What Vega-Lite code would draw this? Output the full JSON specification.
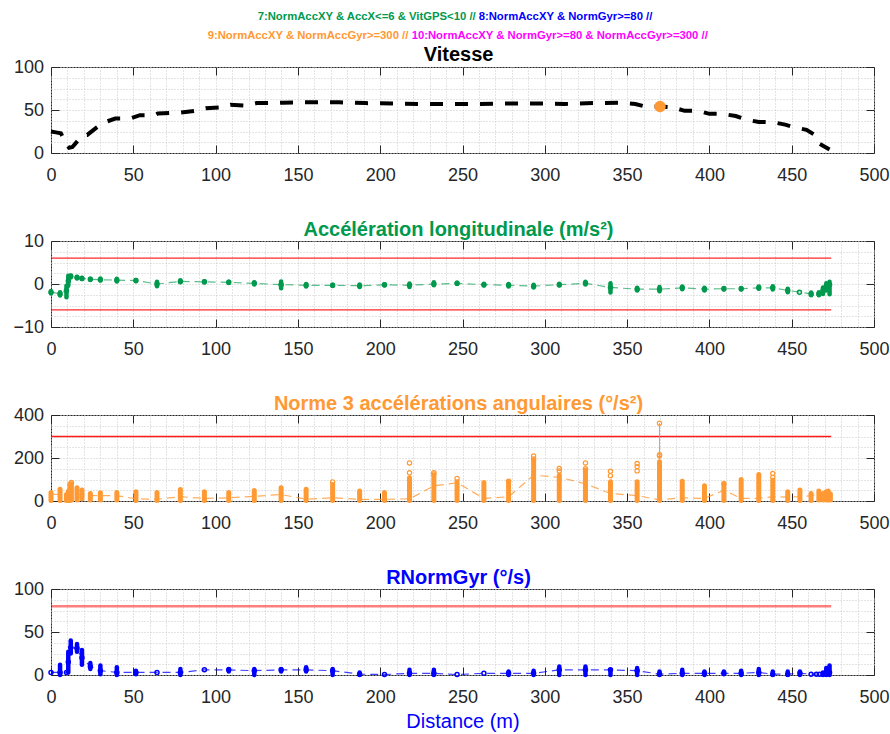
{
 "$schema": "https://vega.github.io/schema/vega-lite/v6.json",
 "background": "white",
 "padding": {"left": 12, "top": 10, "right": 5, "bottom": 5},
 "autosize": {"type": "pad"},
 "bounds": "flush",
 "spacing": 88,
 "config": {
  "font": "Liberation Sans",
  "view": {"stroke": "#262626", "strokeWidth": 1},
  "axis": {"domain": false, "labelFont": "Liberation Sans", "labelFontSize": 18, "labelColor": "#262626", "tickColor": "#262626", "tickWidth": 1, "gridColor": "#c8c8c8", "gridDash": [1, 2], "gridWidth": 1, "labelFlush": false, "labelOverlap": false, "labelBound": false},
  "title": {"font": "Liberation Sans", "fontSize": 20, "fontWeight": "bold", "anchor": "middle", "offset": -7.5, "dx": -4}
 },
 "datasets": {
  "vit": [
   {"d":0,"v":25},{"d":3,"v":24},{"d":6,"v":23},{"d":8,"v":15},{"d":10,"v":8},{"d":11,"v":6},{"d":13,"v":7},{"d":18,"v":18},{"d":20,"v":21},{"d":22,"v":21},{"d":28,"v":30},{"d":31,"v":34},{"d":33,"v":36},{"d":39,"v":40},{"d":48,"v":40},{"d":54,"v":44},{"d":63,"v":44},{"d":65,"v":46},{"d":79,"v":47},{"d":88,"v":49},{"d":94,"v":52},{"d":103,"v":53},{"d":109,"v":56},{"d":118,"v":55},{"d":125,"v":58},{"d":134,"v":58},{"d":141,"v":58.5},{"d":151,"v":59},{"d":175,"v":59},{"d":191,"v":58},{"d":209,"v":57.5},{"d":226,"v":57},{"d":260,"v":57},{"d":278,"v":57.6},{"d":295,"v":57.6},{"d":312,"v":57},{"d":329,"v":58},{"d":346,"v":58.4},{"d":355,"v":57},{"d":361,"v":54},{"d":370,"v":54},{"d":378,"v":53},{"d":385,"v":49},{"d":393,"v":49},{"d":400,"v":45.5},{"d":408,"v":45.5},{"d":416,"v":43},{"d":422,"v":39},{"d":430,"v":36},{"d":438,"v":36},{"d":446,"v":33},{"d":451,"v":30},{"d":459,"v":27},{"d":464,"v":21},{"d":467,"v":10.5},{"d":473,"v":4}
  ],
  "p370": [{"d": 370, "v": 54}],
  "acc": [
   {"d":0,"v":-1.9,"lo":-2.2,"hi":-1.6},{"d":5.5,"v":-2.3,"lo":-2.7,"hi":-1.9},{"d":9.4,"v":-1.5,"lo":-3.1,"hi":-0.4},{"d":10.5,"v":0.7,"lo":-0.4,"hi":1.9},{"d":12,"v":1.8,"lo":1.5,"hi":2.0},{"d":15.8,"v":1.5,"lo":1.3,"hi":1.7},{"d":18.8,"v":1.3,"lo":1.15,"hi":1.45},{"d":23.9,"v":1.1,"lo":0.95,"hi":1.25},{"d":30,"v":1.0,"lo":0.8,"hi":1.3},{"d":40,"v":0.9,"lo":0.6,"hi":1.2},{"d":51.6,"v":0.8,"lo":0.65,"hi":0.95},{"d":64.4,"v":0,"lo":-0.5,"hi":0.5},{"d":78.6,"v":0.6,"lo":0.4,"hi":0.9},{"d":93.2,"v":0.5,"lo":0.35,"hi":0.65},{"d":108,"v":0.4,"lo":0.25,"hi":0.55},{"d":123.5,"v":0.15,"lo":-0.1,"hi":0.4},{"d":139.8,"v":-0.15,"lo":-1.0,"hi":0.6},{"d":155,"v":-0.3,"lo":-0.6,"hi":0},{"d":171.1,"v":-0.3,"lo":-0.45,"hi":-0.15},{"d":187.5,"v":-0.4,"lo":-0.7,"hi":-0.1},{"d":202.6,"v":-0.2,"lo":-0.35,"hi":-0.05},{"d":217.8,"v":-0.3,"lo":-0.7,"hi":0.1},{"d":232.6,"v":0,"lo":-0.3,"hi":0.4},{"d":246.7,"v":0.15,"lo":0,"hi":0.3},{"d":263,"v":-0.15,"lo":-0.35,"hi":0.05},{"d":278,"v":-0.3,"lo":-0.6,"hi":0},{"d":293.2,"v":-0.5,"lo":-0.8,"hi":-0.2},{"d":308.8,"v":-0.15,"lo":-0.35,"hi":0.05},{"d":324.7,"v":0.15,"lo":-0.1,"hi":0.5},{"d":339.9,"v":-0.8,"lo":-2,"hi":0.2},{"d":356.1,"v":-1.2,"lo":-1.5,"hi":-0.9},{"d":369.7,"v":-1.2,"lo":-1.7,"hi":-0.7},{"d":383.5,"v":-0.9,"lo":-1.2,"hi":-0.6},{"d":397,"v":-1.2,"lo":-1.5,"hi":-0.9},{"d":408.8,"v":-1.1,"lo":-1.25,"hi":-0.95},{"d":419.3,"v":-1.1,"lo":-1.25,"hi":-0.95},{"d":430,"v":-0.9,"lo":-1.1,"hi":-0.6},{"d":438.5,"v":-0.9,"lo":-1.3,"hi":-0.5},{"d":447.6,"v":-1.5,"lo":-1.9,"hi":-1.1},{"d":454.7,"v":-1.9,"lo":-1.9,"hi":-1.9},{"d":461.8,"v":-2.3,"lo":-2.6,"hi":-2.0},{"d":466.5,"v":-2.3,"lo":-2.6,"hi":-1.9},{"d":469,"v":-1.5,"lo":-2.3,"hi":-0.8},{"d":471,"v":-0.6,"lo":-1.5,"hi":0.2},{"d":473,"v":-0.2,"lo":-2.4,"hi":0.5}
  ],
  "acg": [
   {"d":0,"v":32,"lo":2,"hi":40},{"d":5.5,"v":30,"lo":2,"hi":55},{"d":9.4,"v":25,"lo":2,"hi":30},{"d":10.5,"v":28,"lo":2,"hi":45},{"d":11.5,"v":30,"lo":2,"hi":70},{"d":12.4,"v":35,"lo":5,"hi":80},{"d":15.8,"v":30,"lo":5,"hi":62},{"d":18.8,"v":28,"lo":10,"hi":51},{"d":23.9,"v":26,"lo":5,"hi":35},{"d":30,"v":25,"lo":5,"hi":38},{"d":40,"v":25,"lo":5,"hi":40},{"d":51.6,"v":10,"lo":2,"hi":43},{"d":64.4,"v":8,"lo":2,"hi":40},{"d":78.6,"v":20,"lo":2,"hi":54},{"d":93.2,"v":12,"lo":2,"hi":43},{"d":108,"v":15,"lo":2,"hi":40},{"d":123.5,"v":22,"lo":2,"hi":49},{"d":139.8,"v":30,"lo":2,"hi":62},{"d":155,"v":8,"lo":2,"hi":55},{"d":171.1,"v":15,"lo":2,"hi":77},{"d":187.5,"v":8,"lo":2,"hi":46},{"d":202.6,"v":8,"lo":2,"hi":40},{"d":217.8,"v":10,"lo":2,"hi":108},{"d":232.6,"v":70,"lo":2,"hi":120},{"d":246.7,"v":85,"lo":2,"hi":89},{"d":263,"v":12,"lo":2,"hi":86},{"d":278,"v":20,"lo":2,"hi":88},{"d":293.2,"v":120,"lo":2,"hi":189},{"d":308.8,"v":110,"lo":2,"hi":120},{"d":324.7,"v":80,"lo":2,"hi":143},{"d":339.9,"v":35,"lo":2,"hi":89},{"d":356.1,"v":25,"lo":2,"hi":89},{"d":369.7,"v":5,"lo":2,"hi":182},{"d":383.5,"v":15,"lo":2,"hi":92},{"d":397,"v":12,"lo":2,"hi":71},{"d":408.8,"v":50,"lo":2,"hi":78},{"d":419.3,"v":12,"lo":2,"hi":100},{"d":430,"v":12,"lo":2,"hi":123},{"d":438.5,"v":20,"lo":2,"hi":97},{"d":447.6,"v":18,"lo":2,"hi":43},{"d":455,"v":20,"lo":2,"hi":51},{"d":461.8,"v":25,"lo":2,"hi":35},{"d":466.5,"v":30,"lo":5,"hi":46},{"d":469,"v":30,"lo":5,"hi":35},{"d":471,"v":30,"lo":5,"hi":43},{"d":472.2,"v":30,"lo":5,"hi":46},{"d":473.5,"v":28,"lo":5,"hi":32}
  ],
  "acgc": [
   {"d":11.5,"y":78},{"d":12.4,"y":86},{"d":171.1,"y":89},{"d":217.8,"y":177},{"d":217.8,"y":131},{"d":232.6,"y":132},{"d":232.6,"y":126},{"d":246.7,"y":105},{"d":278,"y":92},{"d":293.2,"y":209},{"d":293.2,"y":195},{"d":308.8,"y":151},{"d":308.8,"y":140},{"d":324.7,"y":177},{"d":324.7,"y":150},{"d":339.9,"y":138},{"d":339.9,"y":118},{"d":356.1,"y":174},{"d":356.1,"y":160},{"d":356.1,"y":140},{"d":369.7,"y":362},{"d":369.7,"y":215},{"d":369.7,"y":210},{"d":408.8,"y":82},{"d":438.5,"y":128},{"d":438.5,"y":110}
  ],
  "acgpk": [{"d": 369.7, "lo": 182, "hi": 362}],
  "gyr": [
   {"d":0,"v":3,"lo":3,"hi":3},{"d":5.5,"v":3,"lo":0,"hi":12},{"d":9.4,"v":3,"lo":3,"hi":3},{"d":10.5,"v":15,"lo":3,"hi":27},{"d":12,"v":32,"lo":25,"hi":40},{"d":15.8,"v":31,"lo":27,"hi":36},{"d":18.8,"v":20,"lo":12,"hi":29},{"d":23.9,"v":10,"lo":7,"hi":14},{"d":30,"v":5,"lo":1,"hi":11},{"d":40,"v":3,"lo":0,"hi":9},{"d":51.6,"v":3,"lo":1,"hi":5},{"d":64.4,"v":3,"lo":3,"hi":3},{"d":78.6,"v":3,"lo":0,"hi":7},{"d":93.2,"v":6,"lo":6,"hi":6},{"d":108,"v":6,"lo":4,"hi":7},{"d":123.5,"v":5,"lo":0,"hi":7},{"d":139.8,"v":6,"lo":4,"hi":7},{"d":155,"v":6,"lo":4,"hi":9},{"d":171.1,"v":5,"lo":0,"hi":7},{"d":187.5,"v":1,"lo":0,"hi":3},{"d":202.6,"v":0.5,"lo":0.5,"hi":0.5},{"d":217.8,"v":2,"lo":0,"hi":6},{"d":232.6,"v":2,"lo":0,"hi":6},{"d":246.7,"v":0.5,"lo":0.5,"hi":0.5},{"d":263,"v":2,"lo":2,"hi":2},{"d":278,"v":2,"lo":0,"hi":4},{"d":293.2,"v":2,"lo":0,"hi":5},{"d":308.8,"v":6,"lo":0,"hi":10},{"d":324.7,"v":6,"lo":0,"hi":10},{"d":339.9,"v":6,"lo":0,"hi":6},{"d":356.1,"v":5,"lo":0,"hi":8},{"d":369.7,"v":1,"lo":0,"hi":4},{"d":383.5,"v":2,"lo":0,"hi":6},{"d":397,"v":2,"lo":0,"hi":4},{"d":408.8,"v":2,"lo":1,"hi":4},{"d":419.3,"v":2,"lo":0,"hi":5},{"d":430,"v":3,"lo":0,"hi":7},{"d":438.5,"v":1,"lo":0,"hi":4},{"d":447.6,"v":1,"lo":0,"hi":4},{"d":455,"v":2,"lo":0,"hi":4},{"d":461.8,"v":1,"lo":1,"hi":1},{"d":465,"v":1,"lo":1,"hi":1},{"d":467,"v":1,"lo":1,"hi":1},{"d":469,"v":1,"lo":0,"hi":3},{"d":471,"v":3,"lo":0,"hi":8},{"d":473,"v":3,"lo":0,"hi":11}
  ],
  "lim2": [{"lim": 6, "x0": 0, "x1": 474}, {"lim": -6, "x0": 0, "x1": 474}],
  "lim3": [{"lim": 300, "x0": 0, "x1": 474}],
  "lim4": [{"lim": 80, "x0": 0, "x1": 474}]
 },
 "vconcat": [
  {
   "width": 823, "height": 86,
   "layer": [
    {"data": {"name": "vit"}, "mark": {"type": "line", "color": "#000000", "strokeWidth": 4, "strokeDash": [13, 12]},
     "encoding": {
      "x": {"field": "d", "type": "quantitative", "scale": {"domain": [0, 500], "nice": false, "zero": false},
            "axis": {"orient": "bottom", "values": [0,10,20,30,40,50,60,70,80,90,100,110,120,130,140,150,160,170,180,190,200,210,220,230,240,250,260,270,280,290,300,310,320,330,340,350,360,370,380,390,400,410,420,430,440,450,460,470,480,490,500], "labelExpr": "datum.value % 50 === 0 ? datum.label : ''", "tickOpacity": {"condition": {"test": "datum.value % 50 === 0", "value": 1}, "value": 0}, "tickSize": -8, "labelPadding": 21, "grid": true, "title": null}},
      "y": {"field": "v", "type": "quantitative", "scale": {"domain": [0, 100], "nice": false, "zero": false},
            "axis": {"orient": "left", "values": [0,12.5,25,37.5,50,62.5,75,87.5,100], "labelExpr": "datum.value % 50 === 0 ? datum.label : ''", "tickOpacity": {"condition": {"test": "datum.value % 50 === 0", "value": 1}, "value": 0}, "tickSize": -8, "labelPadding": 15.5, "grid": true, "title": null}}
     }},
    {"data": {"name": "p370"}, "mark": {"type": "point", "filled": true, "color": "#ff9933", "size": 130, "opacity": 1},
     "encoding": {
      "x": {"field": "d", "type": "quantitative", "axis": {"orient": "top", "values": [0,50,100,150,200,250,300,350,400,450,500], "labels": false, "grid": false, "tickSize": -8, "minExtent": 0, "maxExtent": 0, "title": null}},
      "y": {"field": "v", "type": "quantitative", "axis": {"orient": "right", "values": [0,50,100], "labels": false, "grid": false, "tickSize": -8, "minExtent": 0, "maxExtent": 0, "title": null}}
     }},
    {"data": {"values": [{"t": "Vitesse"}]}, "mark": {"type": "text", "align": "center", "baseline": "alphabetic", "fontWeight": "bold", "fontSize": 20, "color": "#000000"},
     "encoding": {"text": {"field": "t"}, "x": {"datum": 247.6, "axis": null}, "y": {"datum": 107, "axis": null}}},
    {"data": {"values": [{"t": "7:NormAccXY & AccX<=6 & VitGPS<10 //"}]}, "mark": {"type": "text", "align": "right", "baseline": "alphabetic", "fontWeight": "bold", "fontSize": 11.3, "color": "#00994d"},
     "encoding": {"text": {"field": "t"}, "x": {"datum": 258, "axis": null}, "y": {"datum": 154.3, "axis": null}}},
    {"data": {"values": [{"t": "8:NormAccXY & NormGyr>=80 //"}]}, "mark": {"type": "text", "align": "left", "baseline": "alphabetic", "fontWeight": "bold", "fontSize": 11.3, "color": "#0000ff"},
     "encoding": {"text": {"field": "t"}, "x": {"datum": 259.8, "axis": null}, "y": {"datum": 154.3, "axis": null}}},
    {"data": {"values": [{"t": "9:NormAccXY & NormAccGyr>=300 //"}]}, "mark": {"type": "text", "align": "right", "baseline": "alphabetic", "fontWeight": "bold", "fontSize": 11.3, "color": "#ff9933"},
     "encoding": {"text": {"field": "t"}, "x": {"datum": 217.1, "axis": null}, "y": {"datum": 132.9, "axis": null}}},
    {"data": {"values": [{"t": "10:NormAccXY & NormGyr>=80 & NormAccGyr>=300 //"}]}, "mark": {"type": "text", "align": "left", "baseline": "alphabetic", "fontWeight": "bold", "fontSize": 11.3, "color": "#ff00ff"},
     "encoding": {"text": {"field": "t"}, "x": {"datum": 219.1, "axis": null}, "y": {"datum": 132.9, "axis": null}}}
   ],
   "resolve": {"axis": {"x": "independent", "y": "independent"}}
  },
  {
   "width": 823, "height": 86,
   "title": {"text": "Accélération longitudinale (m/s²)", "color": "#00994d"},
   "layer": [
    {"data": {"name": "lim2"}, "mark": {"type": "rule", "color": "#ff0000", "strokeWidth": 1.3, "opacity": 0.85},
     "encoding": {
      "x": {"field": "x0", "type": "quantitative", "scale": {"domain": [0, 500], "nice": false, "zero": false},
            "axis": {"orient": "bottom", "values": [0,10,20,30,40,50,60,70,80,90,100,110,120,130,140,150,160,170,180,190,200,210,220,230,240,250,260,270,280,290,300,310,320,330,340,350,360,370,380,390,400,410,420,430,440,450,460,470,480,490,500], "labelExpr": "datum.value % 50 === 0 ? datum.label : ''", "tickOpacity": {"condition": {"test": "datum.value % 50 === 0", "value": 1}, "value": 0}, "tickSize": -8, "labelPadding": 21, "grid": true, "title": null}},
      "x2": {"field": "x1"},
      "y": {"field": "lim", "type": "quantitative", "scale": {"domain": [-10, 10], "nice": false, "zero": false},
            "axis": {"orient": "left", "values": [-10,-7.5,-5,-2.5,0,2.5,5,7.5,10], "labelExpr": "datum.value % 10 === 0 ? datum.label : ''", "tickOpacity": {"condition": {"test": "datum.value % 10 === 0", "value": 1}, "value": 0}, "tickSize": -8, "labelPadding": 15.5, "grid": true, "title": null}}
     }},
    {"data": {"name": "acc"}, "mark": {"type": "line", "color": "#00994d", "strokeWidth": 1.2, "strokeDash": [8, 5], "opacity": 0.65},
     "encoding": {"x": {"field": "d", "type": "quantitative", "axis": null}, "y": {"field": "v", "type": "quantitative", "axis": null}}},
    {"data": {"name": "acc"}, "transform": [{"filter": "datum.hi > datum.lo"}], "mark": {"type": "rule", "color": "#00994d", "strokeWidth": 4.5, "strokeCap": "round"},
     "encoding": {
      "x": {"field": "d", "type": "quantitative", "axis": {"orient": "top", "values": [0,50,100,150,200,250,300,350,400,450,500], "labels": false, "grid": false, "tickSize": -8, "minExtent": 0, "maxExtent": 0, "title": null}},
      "y": {"field": "lo", "type": "quantitative", "axis": {"orient": "right", "values": [-10,0,10], "labels": false, "grid": false, "tickSize": -8, "minExtent": 0, "maxExtent": 0, "title": null}},
      "y2": {"field": "hi"}
     }},
    {"data": {"name": "acc"}, "mark": {"type": "point", "color": "#00994d", "size": 16, "strokeWidth": 1.5, "filled": false, "opacity": 1},
     "encoding": {"x": {"field": "d", "type": "quantitative", "axis": null}, "y": {"field": "v", "type": "quantitative", "axis": null}}}
   ],
   "resolve": {"axis": {"x": "independent", "y": "independent"}}
  },
  {
   "width": 823, "height": 86,
   "title": {"text": "Norme 3 accélérations angulaires (°/s²)", "color": "#ff9933"},
   "layer": [
    {"data": {"name": "lim3"}, "mark": {"type": "rule", "color": "#ff0000", "strokeWidth": 1.3, "opacity": 0.9},
     "encoding": {
      "x": {"field": "x0", "type": "quantitative", "scale": {"domain": [0, 500], "nice": false, "zero": false},
            "axis": {"orient": "bottom", "values": [0,10,20,30,40,50,60,70,80,90,100,110,120,130,140,150,160,170,180,190,200,210,220,230,240,250,260,270,280,290,300,310,320,330,340,350,360,370,380,390,400,410,420,430,440,450,460,470,480,490,500], "labelExpr": "datum.value % 50 === 0 ? datum.label : ''", "tickOpacity": {"condition": {"test": "datum.value % 50 === 0", "value": 1}, "value": 0}, "tickSize": -8, "labelPadding": 21, "grid": true, "title": null}},
      "x2": {"field": "x1"},
      "y": {"field": "lim", "type": "quantitative", "scale": {"domain": [0, 400], "nice": false, "zero": false},
            "axis": {"orient": "left", "values": [0,50,100,150,200,250,300,350,400], "labelExpr": "datum.value % 200 === 0 ? datum.label : ''", "tickOpacity": {"condition": {"test": "datum.value % 200 === 0", "value": 1}, "value": 0}, "tickSize": -8, "labelPadding": 15.5, "grid": true, "title": null}}
     }},
    {"data": {"name": "acg"}, "mark": {"type": "line", "color": "#ff9933", "strokeWidth": 1.2, "strokeDash": [8, 5], "opacity": 0.8},
     "encoding": {"x": {"field": "d", "type": "quantitative", "axis": null}, "y": {"field": "v", "type": "quantitative", "axis": null}}},
    {"data": {"name": "acgpk"}, "mark": {"type": "rule", "color": "#ff9933", "strokeWidth": 1},
     "encoding": {"x": {"field": "d", "type": "quantitative", "axis": null}, "y": {"field": "lo", "type": "quantitative", "axis": null}, "y2": {"field": "hi"}}},
    {"data": {"name": "acg"}, "mark": {"type": "rule", "color": "#ff9933", "strokeWidth": 5, "strokeCap": "round"},
     "encoding": {
      "x": {"field": "d", "type": "quantitative", "axis": {"orient": "top", "values": [0,50,100,150,200,250,300,350,400,450,500], "labels": false, "grid": false, "tickSize": -8, "minExtent": 0, "maxExtent": 0, "title": null}},
      "y": {"field": "lo", "type": "quantitative", "axis": {"orient": "right", "values": [0,200,400], "labels": false, "grid": false, "tickSize": -8, "minExtent": 0, "maxExtent": 0, "title": null}},
      "y2": {"field": "hi"}
     }},
    {"data": {"name": "acgc"}, "mark": {"type": "point", "color": "#ff9933", "size": 18, "strokeWidth": 1.2, "filled": false, "opacity": 1},
     "encoding": {"x": {"field": "d", "type": "quantitative", "axis": null}, "y": {"field": "y", "type": "quantitative", "axis": null}}}
   ],
   "resolve": {"axis": {"x": "independent", "y": "independent"}}
  },
  {
   "width": 823, "height": 86,
   "title": {"text": "RNormGyr (°/s)", "color": "#0000ff"},
   "layer": [
    {"data": {"name": "lim4"}, "mark": {"type": "rule", "color": "#ff0000", "strokeWidth": 2.5, "opacity": 0.5},
     "encoding": {
      "x": {"field": "x0", "type": "quantitative", "scale": {"domain": [0, 500], "nice": false, "zero": false},
            "axis": {"orient": "bottom", "values": [0,10,20,30,40,50,60,70,80,90,100,110,120,130,140,150,160,170,180,190,200,210,220,230,240,250,260,270,280,290,300,310,320,330,340,350,360,370,380,390,400,410,420,430,440,450,460,470,480,490,500], "labelExpr": "datum.value % 50 === 0 ? datum.label : ''", "tickOpacity": {"condition": {"test": "datum.value % 50 === 0", "value": 1}, "value": 0}, "tickSize": -8, "labelPadding": 21, "grid": true, "title": "Distance (m)", "titleColor": "#0000ff", "titleFontSize": 20, "titleFontWeight": "normal", "titleFont": "Liberation Sans", "titlePadding": 5}},
      "x2": {"field": "x1"},
      "y": {"field": "lim", "type": "quantitative", "scale": {"domain": [0, 100], "nice": false, "zero": false},
            "axis": {"orient": "left", "values": [0,12.5,25,37.5,50,62.5,75,87.5,100], "labelExpr": "datum.value % 50 === 0 ? datum.label : ''", "tickOpacity": {"condition": {"test": "datum.value % 50 === 0", "value": 1}, "value": 0}, "tickSize": -8, "labelPadding": 15.5, "grid": true, "title": null}}
     }},
    {"data": {"name": "gyr"}, "mark": {"type": "line", "color": "#0000ff", "strokeWidth": 1.2, "strokeDash": [8, 5], "opacity": 0.75},
     "encoding": {"x": {"field": "d", "type": "quantitative", "axis": null}, "y": {"field": "v", "type": "quantitative", "axis": null}}},
    {"data": {"name": "gyr"}, "transform": [{"filter": "datum.hi > datum.lo"}], "mark": {"type": "rule", "color": "#0000ff", "strokeWidth": 4.5, "strokeCap": "round"},
     "encoding": {
      "x": {"field": "d", "type": "quantitative", "axis": {"orient": "top", "values": [0,50,100,150,200,250,300,350,400,450,500], "labels": false, "grid": false, "tickSize": -8, "minExtent": 0, "maxExtent": 0, "title": null}},
      "y": {"field": "lo", "type": "quantitative", "axis": {"orient": "right", "values": [0,50,100], "labels": false, "grid": false, "tickSize": -8, "minExtent": 0, "maxExtent": 0, "title": null}},
      "y2": {"field": "hi"}
     }},
    {"data": {"name": "gyr"}, "mark": {"type": "point", "color": "#0000ff", "size": 16, "strokeWidth": 1.5, "filled": false, "opacity": 1},
     "encoding": {"x": {"field": "d", "type": "quantitative", "axis": null}, "y": {"field": "v", "type": "quantitative", "axis": null}}}
   ],
   "resolve": {"axis": {"x": "independent", "y": "independent"}}
  }
 ]
}
